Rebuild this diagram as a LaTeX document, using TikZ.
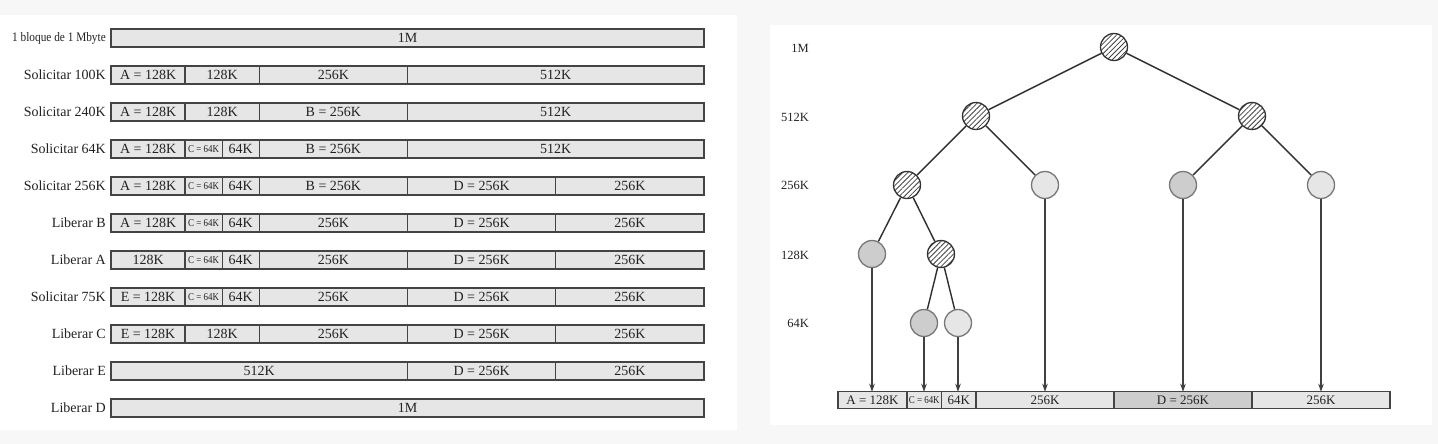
\documentclass[tikz,border=0pt]{standalone}
\usepackage{fontspec}
\setmainfont{Liberation Serif}
\usetikzlibrary{arrows.meta,patterns.meta}
\definecolor{bgc}{HTML}{F7F7F7}
\definecolor{segfill}{HTML}{E6E6E6}
\definecolor{usedfill}{HTML}{CDCDCD}
\definecolor{linec}{HTML}{444444}
\definecolor{txt}{HTML}{222222}
\definecolor{freeline}{HTML}{777777}
\newcommand\lseg[5]{\node[seg,minimum width={(#3-#2)*37.0625}] (#5) at ({111+(#2+#3)*18.53125},#1) {#4};}
\newcommand\rseg[5][]{\node[rsegs,minimum width={(#3-#2)*34.5},#1] (#5) at ({838+(#2+#3)*17.25},400.3) {#4};}
\newcommand\cseg{\scalebox{0.85}[1]{\fontsize{10.5}{11}\selectfont C = 64K}}
\newcommand\rowlab[3]{\node[lab] (#3) at (106,#1) {#2};}
\begin{document}
\begin{tikzpicture}[x=1pt,y=-1pt,
  seg/.style={draw=linec,fill=segfill,line width=1.3pt,minimum height=18,inner sep=0,outer sep=0,text=txt,font=\fontsize{14}{16}\selectfont},
  rsegs/.style={draw=linec,fill=segfill,line width=1.3pt,minimum height=17,inner sep=0,outer sep=0,text=txt,font=\fontsize{13}{15}\selectfont},
  lab/.style={anchor=east,inner sep=0,text=txt,font=\fontsize{14}{16}\selectfont},
  lvl/.style={anchor=east,inner sep=0,text=txt,font=\fontsize{12.5}{14}\selectfont},
  tnode/.style={circle,minimum size=27,inner sep=0,line width=1.3pt},
  hatched/.style={tnode,draw=black!80,preaction={fill=white},pattern={Lines[angle=45,distance=3.6pt,line width=0.8pt]},pattern color=black!75},
  freen/.style={tnode,draw=freeline,fill=segfill},
  usedn/.style={tnode,draw=freeline,fill=usedfill},
  edge/.style={line width=1.4pt,draw=black!82},
  arr/.style={line width=1.4pt,draw=black!75,-{Stealth[length=8pt,width=5.5pt]}}]
\useasboundingbox (0,0) rectangle (1438,444);
\fill[bgc] (0,0) rectangle (1438,444);
\fill[white] (0,15) rectangle (737,430);
\fill[white] (770,25) rectangle (1432,425);
% ---------- left panel ----------
\node[lab,font=\fontsize{13}{15}\selectfont] (lab1) at (106,38) {\scalebox{0.87}[1]{1 bloque de 1 Mbyte}};
\lseg{38}{0}{16}{1M}{s1a}
\rowlab{75}{Solicitar 100K}{lab2}
\lseg{75}{0}{2}{A = 128K}{s2a}\lseg{75}{2}{4}{128K}{s2b}\lseg{75}{4}{8}{256K}{s2c}\lseg{75}{8}{16}{512K}{s2d}
\rowlab{112}{Solicitar 240K}{lab3}
\lseg{112}{0}{2}{A = 128K}{s3a}\lseg{112}{2}{4}{128K}{s3b}\lseg{112}{4}{8}{B = 256K}{s3c}\lseg{112}{8}{16}{512K}{s3d}
\rowlab{149}{Solicitar 64K}{lab4}
\lseg{149}{0}{2}{A = 128K}{s4a}\lseg{149}{2}{3}{\cseg}{s4b}\lseg{149}{3}{4}{64K}{s4c}\lseg{149}{4}{8}{B = 256K}{s4d}\lseg{149}{8}{16}{512K}{s4e}
\rowlab{186}{Solicitar 256K}{lab5}
\lseg{186}{0}{2}{A = 128K}{s5a}\lseg{186}{2}{3}{\cseg}{s5b}\lseg{186}{3}{4}{64K}{s5c}\lseg{186}{4}{8}{B = 256K}{s5d}\lseg{186}{8}{12}{D = 256K}{s5e}\lseg{186}{12}{16}{256K}{s5f}
\rowlab{223}{Liberar B}{lab6}
\lseg{223}{0}{2}{A = 128K}{s6a}\lseg{223}{2}{3}{\cseg}{s6b}\lseg{223}{3}{4}{64K}{s6c}\lseg{223}{4}{8}{256K}{s6d}\lseg{223}{8}{12}{D = 256K}{s6e}\lseg{223}{12}{16}{256K}{s6f}
\rowlab{260}{Liberar A}{lab7}
\lseg{260}{0}{2}{128K}{s7a}\lseg{260}{2}{3}{\cseg}{s7b}\lseg{260}{3}{4}{64K}{s7c}\lseg{260}{4}{8}{256K}{s7d}\lseg{260}{8}{12}{D = 256K}{s7e}\lseg{260}{12}{16}{256K}{s7f}
\rowlab{297}{Solicitar 75K}{lab8}
\lseg{297}{0}{2}{E = 128K}{s8a}\lseg{297}{2}{3}{\cseg}{s8b}\lseg{297}{3}{4}{64K}{s8c}\lseg{297}{4}{8}{256K}{s8d}\lseg{297}{8}{12}{D = 256K}{s8e}\lseg{297}{12}{16}{256K}{s8f}
\rowlab{334}{Liberar C}{lab9}
\lseg{334}{0}{2}{E = 128K}{s9a}\lseg{334}{2}{4}{128K}{s9b}\lseg{334}{4}{8}{256K}{s9c}\lseg{334}{8}{12}{D = 256K}{s9d}\lseg{334}{12}{16}{256K}{s9e}
\rowlab{371}{Liberar E}{lab10}
\lseg{371}{0}{8}{512K}{s10a}\lseg{371}{8}{12}{D = 256K}{s10b}\lseg{371}{12}{16}{256K}{s10c}
\rowlab{408}{Liberar D}{lab11}
\lseg{408}{0}{16}{1M}{s11a}
% ---------- right panel ----------
\node[lvl] (v1) at (809,48) {1M};
\node[lvl] (v2) at (809,117) {512K};
\node[lvl] (v3) at (809,185) {256K};
\node[lvl] (v4) at (809,255) {128K};
\node[lvl] (v5) at (809,323) {64K};
\node[hatched] (r) at (1114,47) {};
\node[hatched] (l1a) at (976,116) {};
\node[hatched] (l1b) at (1252,116) {};
\node[hatched] (m1) at (907,185) {};
\node[freen] (m2) at (1045,185) {};
\node[usedn] (m3) at (1183,185) {};
\node[freen] (m4) at (1321,185) {};
\node[usedn] (k1) at (872,254) {};
\node[hatched] (k2) at (941,254) {};
\node[usedn] (q1) at (924,323) {};
\node[freen] (q2) at (958,323) {};
\draw[edge] (r) -- (l1a);
\draw[edge] (r) -- (l1b);
\draw[edge] (l1a) -- (m1);
\draw[edge] (l1a) -- (m2);
\draw[edge] (l1b) -- (m3);
\draw[edge] (l1b) -- (m4);
\draw[edge] (m1) -- (k1);
\draw[edge] (m1) -- (k2);
\draw[edge] (k2) -- (q1);
\draw[edge] (k2) -- (q2);
\rseg{0}{2}{A = 128K}{ba}
\rseg{2}{3}{\cseg}{bc}
\rseg{3}{4}{64K}{bf}
\rseg{4}{8}{256K}{bg}
\rseg[fill=usedfill]{8}{12}{D = 256K}{bd}
\rseg{12}{16}{256K}{bh}
\draw[arr] (k1) -- (k1 |- ba.north);
\draw[arr] (q1) -- (q1 |- bc.north);
\draw[arr] (q2) -- (q2 |- bf.north);
\draw[arr] (m2) -- (m2 |- bg.north);
\draw[arr] (m3) -- (m3 |- bd.north);
\draw[arr] (m4) -- (m4 |- bh.north);
\end{tikzpicture}
\end{document}
